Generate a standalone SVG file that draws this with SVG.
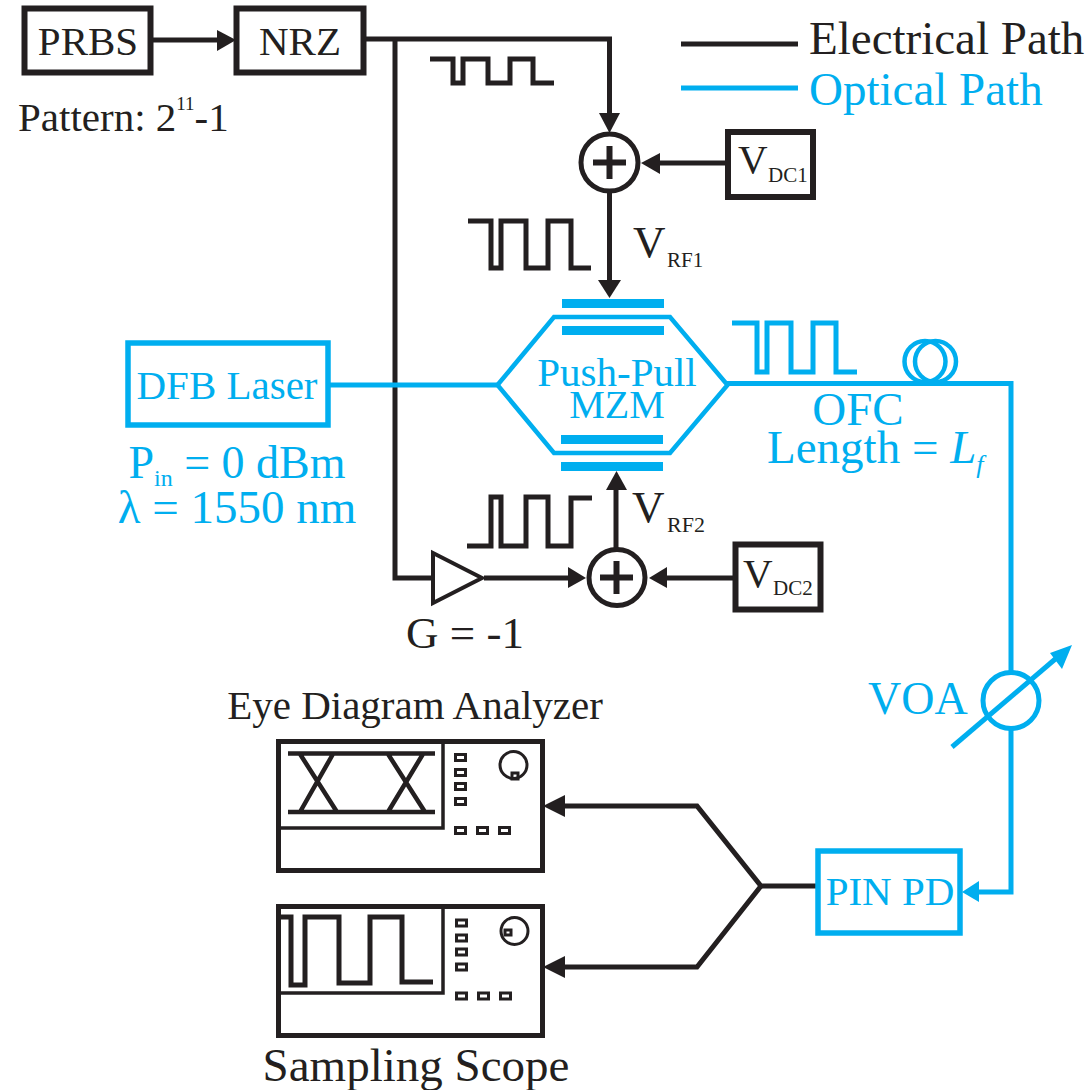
<svg xmlns="http://www.w3.org/2000/svg" width="1092" height="1090" viewBox="0 0 1092 1090">
<style>
text{font-family:"Liberation Serif","Times New Roman",serif;fill:#231f20;font-size:41px}
.b{fill:#00aeef}
.m{text-anchor:middle}
.s{font-size:21px}
.k{fill:none;stroke:#231f20;stroke-width:5}
.kb{fill:#fff;stroke:#231f20;stroke-width:5}
.bx{fill:#fff;stroke:#231f20;stroke-width:6}
.c{fill:none;stroke:#00aeef;stroke-width:5}
.cb{fill:#fff;stroke:#00aeef;stroke-width:5.5}
.f{fill:#00aeef}
.w{fill:#231f20}
.t{fill:none;stroke:#231f20;stroke-width:3}
.i{fill:none;stroke:#231f20;stroke-width:3.5}
</style>
<defs>
<g id="controls">
<rect x="0" y="0" width="10" height="6" class="t"/><rect x="0" y="15" width="10" height="6" class="t"/><rect x="0" y="29" width="10" height="6" class="t"/><rect x="0" y="44" width="10" height="6" class="t"/>
<rect x="0" y="73" width="10" height="6" class="t"/><rect x="22" y="73" width="10" height="6" class="t"/><rect x="44" y="73" width="10" height="6" class="t"/>
</g>
</defs>
<g id="connectors">
<path class="k" d="M150 40H222"/><path class="w" d="M236 40L217 30V51Z"/>
<path class="k" d="M364 39H609.500V116"/><path class="w" d="M609.500 133L599 113H620Z"/>
<path class="k" d="M395 39V578H433"/>
<path class="k" d="M484 578H570"/><path class="w" d="M586 578L568 567V588Z"/>
<path class="k" d="M733 578H664"/><path class="w" d="M649 578L667 567V588Z"/>
<path class="k" d="M726 163H658"/><path class="w" d="M641 163L660 153V174Z"/>
<path class="k" d="M609.500 192V284"/><path class="w" d="M609.500 298L598 280H621Z"/>
<path class="k" d="M616 549V486"/><path class="w" d="M616.500 471L606 490H627Z"/>
<path class="k" d="M818 886H761L697 806H560"/><path class="w" d="M543 806L565 795V817Z"/>
<path class="k" d="M761 886L697 967H560"/><path class="w" d="M543 967L565 956V978Z"/>
<path class="c" d="M328 385H498M727 383.500H1011V892H976"/><path class="f" d="M962 892L979 881V902Z"/>
</g>
<g id="legend">
<path d="M681 44H798" stroke="#231f20" stroke-width="5"/><text x="809" y="54" style="font-size:47px">Electrical Path</text>
<path d="M681 88H798" stroke="#00aeef" stroke-width="5"/><text x="809" y="105" class="b" style="font-size:47px">Optical Path</text>
</g>
<g id="prbs"><rect x="24.500" y="8.500" width="126" height="64" class="bx"/><text x="88" y="55" class="m">PRBS</text><text x="18" y="131">Pattern: 2<tspan dy="-21" font-size="19">11</tspan><tspan dy="21">-1</tspan></text></g>
<g id="nrz"><rect x="236.500" y="8.500" width="127" height="64" class="bx"/><text x="300" y="55" class="m">NRZ</text></g>
<g id="waves">
<path class="k" d="M430 59H453V83H463V59H488V83H510V59H533V83H554"/>
<path class="k" d="M468 221H491V268H501V221H526V268H548V221H571V268H591"/>
<path class="c" d="M732 323H757V372H767V323H791V372H813V323H836V372H857"/>
<path class="k" d="M467 546H491V497H501V546H526V497H548V546H571V498H592"/>
</g>
<g id="sum1"><circle cx="609.500" cy="162.500" r="28.500" class="kb"/><path d="M593 162.500H626M609.500 146V179" stroke="#231f20" stroke-width="6"/></g>
<g id="sum2"><circle cx="617" cy="577.500" r="28" class="kb"/><path d="M600 577.500H633M616.500 561V594" stroke="#231f20" stroke-width="6"/></g>
<g id="vdc1"><rect x="728" y="132" width="85" height="65" class="bx"/><text x="738" y="173">V<tspan x="768" dy="9" class="s">DC1</tspan></text></g>
<g id="vdc2"><rect x="735.500" y="544.500" width="85" height="65" class="bx"/><text x="743" y="587">V<tspan x="773" dy="8" class="s">DC2</tspan></text></g>
<text x="633" y="257" style="font-size:45px">V<tspan x="667" dy="10" class="s">RF1</tspan></text>
<text x="632" y="522" style="font-size:45px">V<tspan x="667" dy="10" style="font-size:22px">RF2</tspan></text>
<g id="amp"><path d="M433 553L482 578L433 603Z" class="kb" style="stroke-width:4"/><text x="465" y="648" class="m" style="font-size:45px">G = -1</text></g>
<g id="laser"><rect x="128" y="343" width="200" height="82" class="cb"/><text x="227" y="399" class="m b">DFB Laser</text>
<text x="237" y="478" class="m b" style="font-size:46px">P<tspan dy="8" font-size="24">in</tspan><tspan dy="-8"> = 0 dBm</tspan></text>
<text x="237" y="523" class="m b" style="font-size:47px">λ = 1550 nm</text></g>
<g id="mzm">
<path class="cb" style="stroke-width:4.500" d="M497.500 385L554 317H670L727.500 385L670 453H554Z"/>
<rect x="562" y="299" width="102" height="9" class="f"/><rect x="562" y="326" width="102" height="9" class="f"/>
<rect x="561" y="435" width="102" height="9" class="f"/><rect x="561" y="462" width="102" height="9" class="f"/>
<text x="617" y="386" class="m b">Push-Pull</text><text x="617" y="418" class="m b" style="font-size:40px">MZM</text>
</g>
<g id="ofc"><circle cx="925" cy="361.500" r="20.500" class="c" style="stroke-width:4.500"/><circle cx="935.500" cy="361.500" r="20.500" class="c" style="stroke-width:4.500"/>
<text x="858" y="425" class="m b" style="font-size:47px">OFC</text>
<text x="767" y="463" class="b" style="font-size:47px">Length = <tspan font-style="italic">L</tspan><tspan font-style="italic" dy="10" font-size="26">f</tspan></text></g>
<g id="voa"><circle cx="1011" cy="700.500" r="28" class="c" style="fill:#fff"/><path class="c" d="M952 747L1060 655"/><path class="f" d="M1072 645L1050 653L1062 669Z"/><text x="868" y="714" class="b" style="font-size:46px">VOA</text></g>
<g id="pin"><rect x="818" y="851" width="142" height="82" class="cb"/><text x="890" y="905" class="m b">PIN PD</text></g>
<g id="eye"><text x="415" y="719" class="m" style="font-size:41px">Eye Diagram Analyzer</text>
<rect x="278.500" y="741.500" width="264" height="129" class="kb"/>
<path class="i" d="M278 828H443V741"/>
<path class="k" style="stroke-width:4.500" d="M288 753.500H435M288 812H435M300 754L337 812M333 754L300 812M388 754L425 812M423 754L388 812"/>
<use href="#controls" x="455.500" y="754.500"/>
<circle cx="513.500" cy="765" r="13.500" class="t"/><rect x="512" y="773" width="6" height="6" class="t"/>
</g>
<g id="scope"><text x="416" y="1081" class="m" style="font-size:47px">Sampling Scope</text>
<rect x="278.500" y="906.500" width="264" height="129" class="kb"/>
<path class="i" d="M278 993H443V906"/>
<path class="k" d="M281 917H291V985H305V917H339V983H370V917H402V982H433"/>
<use href="#controls" x="456.500" y="920"/>
<circle cx="514.500" cy="931" r="13.500" class="t"/><rect x="505" y="930" width="6" height="5" class="t"/>
</g>
</svg>
